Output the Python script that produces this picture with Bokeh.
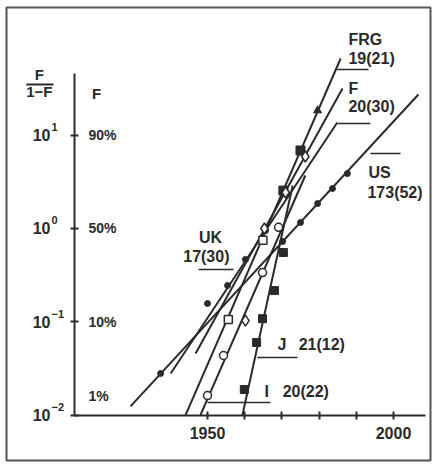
from bokeh.plotting import figure
from bokeh.models import Range1d, FixedTicker, ColumnDataSource
from bokeh.core.properties import value
from bokeh.embed import file_html
from bokeh.resources import INLINE

INK = "#2a2a2a"
FONT = "Liberation Sans"

# ---- data (year, F/(1-F)) ----
line_names = ["US", "UK", "FRG", "F", "I", "J"]
line_x0 = [1929.3, 1940.1, 1944.1, 1946.8, 1948.1, 1959.4]
line_y0 = [0.0124, 0.0279, 0.0100, 0.0457, 0.0100, 0.0100]
line_x1 = [2006.7, 1984.9, 1985.8, 1986.3, 1976.3, 1972.9]
line_y1 = [27.3, 13.7, 66.4, 31.7, 3.70, 2.89]

us_year = [1937.4, 1970.2, 1975.0, 1979.6, 1983.6, 1987.6]
us_val = [0.0279, 0.726, 1.16, 1.85, 2.68, 3.88]
uk_year = [1950.0, 1955.4, 1960.2, 1965.6]
uk_val = [0.157, 0.245, 0.466, 0.95]
frg_open_year = [1955.6, 1964.9]
frg_open_val = [0.106, 0.75]
frg_fill_year = [1970.4, 1975.0]
frg_fill_val = [2.55, 6.86]
frg_tri_year = [1979.6]
frg_tri_val = [18.4]
f_year = [1965.3, 1971.0, 1976.3]
f_val = [1.0, 2.43, 5.91]
i_year = [1950.0, 1954.3, 1964.8, 1969.1]
i_val = [0.0162, 0.0435, 0.337, 1.03]
i_dia_year = [1960.2]
i_dia_val = [0.103]
j_year = [1959.9, 1963.2, 1964.8, 1968.0, 1970.4]
j_val = [0.0188, 0.060, 0.108, 0.216, 0.553]

label_text = ["FRG", "19(21)", "F", "20(30)", "US", "173(52)", "UK", "17(30)",
              "J", "21(12)", "I", "20(22)"]
label_x = [1987.9, 1987.9, 1987.9, 1987.9, 1993.3, 1993.0, 1950.8, 1949.7,
           1968.8, 1974.5, 1965.3, 1970.2]
label_y = [106, 67.2, 31.3, 20.1, 4.03, 2.46, 0.791, 0.495,
           0.0571, 0.0571, 0.0179, 0.0179]
label_align = ["left", "left", "left", "left", "left", "left", "center", "center",
               "left", "left", "left", "left"]

lead_x0 = [1984.9, 1984.9, 1993.8, 1947.6, 1963.4, 1950.0]
lead_x1 = [1993.3, 1993.8, 2001.9, 1957.0, 1974.2, 1966.9]
lead_y = [50.6, 13.35, 6.37, 0.364, 0.0414, 0.0136]

y_ticks = [0.01, 0.1, 1, 10]
y_exp = ["\u22122", "\u22121", "0", "1"]
pct_text = ["1%", "10%", "50%", "90%"]
pct_y = [0.0162, 0.1, 1, 10]
x_ticks = [1950, 1960, 1970, 1980, 1990, 2000]
x_labels = ["1950", "", "", "", "", "2000"]

p = figure(width=435, height=465, y_axis_type="log", output_backend="svg",
           toolbar_location=None, title=None,
           x_range=Range1d(1895.97, 2009.95),
           y_range=Range1d(10 ** -2.487, 10 ** 2.369))
p.min_border_left = 6
p.min_border_top = 7
p.min_border_right = 5
p.min_border_bottom = 5
p.background_fill_color = "white"
p.border_fill_color = "white"
p.outline_line_color = "#555555"
p.outline_line_width = 2
p.xgrid.visible = False
p.ygrid.visible = False

for ax in (p.xaxis[0], p.yaxis[0]):
    ax.axis_line_color = INK
    ax.axis_line_width = 2
    ax.major_tick_line_color = INK
    ax.major_tick_line_width = 2
    ax.major_tick_in = 4
    ax.major_tick_out = 4
    ax.major_label_text_font = FONT
    ax.major_label_text_font_style = "bold"
    ax.major_label_text_font_size = "16px"
    ax.major_label_text_color = INK

xa = p.xaxis[0]
xa.fixed_location = 0.01
xa.bounds = (1914.25, 2008.6)
xa.ticker = FixedTicker(ticks=x_ticks, minor_ticks=[])
xa.major_label_overrides = {t: l for t, l in zip(x_ticks, x_labels)}
xa.major_label_standoff = 8

ya = p.yaxis[0]
ya.fixed_location = 1914.25
ya.bounds = (0.01, 45.9)
ya.ticker = FixedTicker(ticks=y_ticks, minor_ticks=[])
ya.major_label_overrides = {t: "10" for t in y_ticks}
ya.major_label_standoff = 20

# fitted lines
p.segment(x0=line_x0, y0=line_y0, x1=line_x1, y1=line_y1,
          line_color=INK, line_width=2)

# data points
p.scatter(us_year, us_val, marker="circle", size=6, fill_color=INK, line_color=INK)
p.scatter(uk_year, uk_val, marker="circle", size=6, fill_color=INK, line_color=INK)
p.scatter(frg_open_year, frg_open_val, marker="square", size=8,
          fill_color="white", line_color=INK, line_width=1.5)
p.scatter(frg_fill_year, frg_fill_val, marker="square", size=9, fill_color=INK, line_color=INK)
p.scatter(frg_tri_year, frg_tri_val, marker="triangle", size=8, fill_color=INK, line_color=INK)
p.scatter(f_year, f_val, marker="diamond", size=11,
          fill_color="white", line_color=INK, line_width=1.5)
p.scatter(i_year, i_val, marker="circle", size=8,
          fill_color="white", line_color=INK, line_width=1.5)
p.scatter(i_dia_year, i_dia_val, marker="diamond", size=11,
          fill_color="white", line_color=INK, line_width=1.5)
p.scatter(j_year, j_val, marker="square", size=8, fill_color=INK, line_color=INK)

# leaders and labels
p.segment(x0=lead_x0, y0=lead_y, x1=lead_x1, y1=lead_y, line_color=INK, line_width=1.5)
lab = ColumnDataSource(dict(x=label_x, y=label_y, t=label_text, a=label_align))
p.text(x="x", y="y", text="t", text_align="a", source=lab, text_baseline="middle",
       text_font=value(FONT), text_font_style="bold", text_font_size="16px",
       text_color=INK)

# y-axis exponents and percent scale
p.text(x=[1908.1] * 4, y=y_ticks, text=y_exp, text_align="left", text_baseline="middle",
       y_offset=-8, text_font=value(FONT), text_font_style="bold",
       text_font_size="11px", text_color=INK)
p.text(x=[1918.0] * 4, y=pct_y, text=pct_text, text_align="left", text_baseline="middle",
       text_font=value(FONT), text_font_style="bold", text_font_size="14px",
       text_color=INK)
p.text(x=[1920.2], y=[28.0], text=["F"], text_align="center", text_baseline="middle",
       text_font=value(FONT), text_font_style="bold", text_font_size="15px",
       text_color=INK)
p.text(x=[1904.8, 1904.8], y=[44.7, 29.4], text=["F", "1\u2212F"], text_align="center",
       text_baseline="middle", text_font=value(FONT), text_font_style="bold",
       text_font_size="15px", text_color=INK)
p.segment(x0=[1901.3], y0=[34.9], x1=[1908.6], y1=[34.9], line_color=INK, line_width=2)

open("out.html", "w").write(file_html(p, INLINE))
